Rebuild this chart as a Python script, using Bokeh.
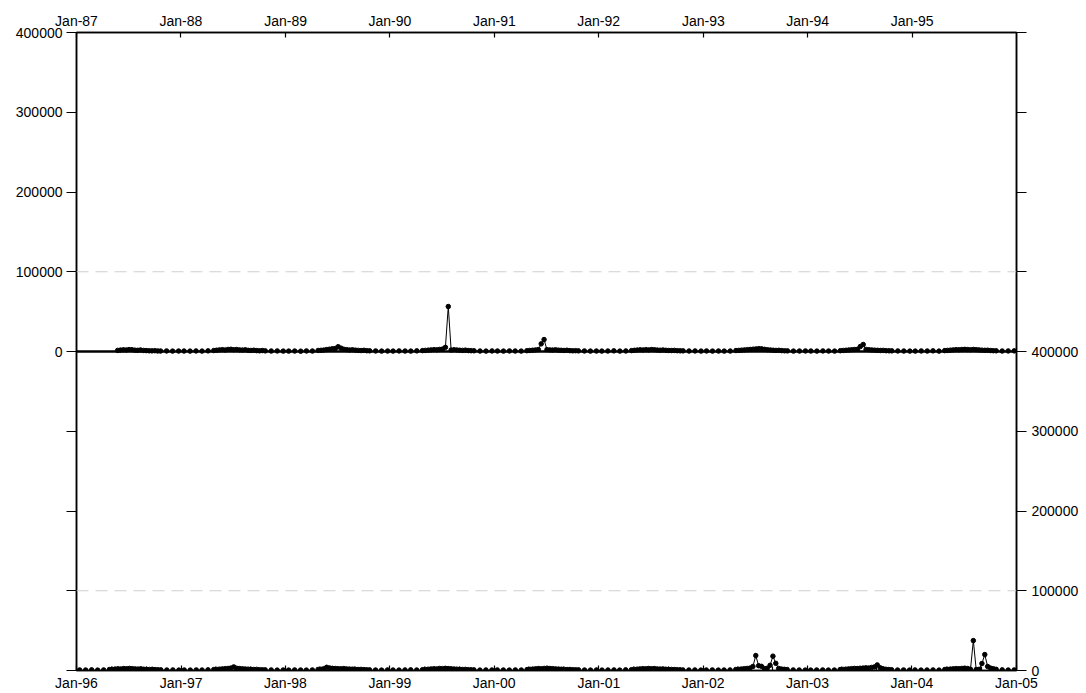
from datetime import datetime
from bokeh.plotting import figure
from bokeh.models import (Range1d, DatetimeAxis, LinearAxis, FixedTicker,
                          DatetimeTickFormatter, Span, CustomJSTickFormatter)
from bokeh.embed import file_html
from bokeh.resources import INLINE

# sampling calendar (month, day) used each year
SAMPLE_MD = [(1, 12), (2, 2), (2, 23), (3, 15), (4, 5),
             (4, 25), (5, 5), (5, 15), (5, 25), (6, 4), (6, 14), (6, 24), (7, 4), (7, 14), (7, 24),
             (8, 3), (8, 13), (8, 23), (9, 2), (9, 12), (9, 22), (10, 2), (10, 12), (10, 22),
             (11, 12), (12, 3), (12, 24)]

V1987 = [None, None, None, None, None, None, None, None, 1400, 1800, 2100, 1900, 2400, 2200, 1700, 1500, 1900, 1300, 1100, 900, 800, 1000, 700, 600, 700, 500, 600]
V1988 = [600, 500, 700, 500, 800, 1200, 1600, 2000, 2300, 1900, 2600, 2800, 2200, 2500, 2000, 1800, 2100, 1500, 1300, 1600, 1100, 900, 1200, 800, 600, 700, 500]
V1989 = [500, 600, 400, 700, 600, 1300, 1500, 1800, 2400, 2900, 3500, 3800, 6000, 4200, 2800, 2300, 1900, 2100, 1700, 1400, 1200, 1500, 1000, 900, 700, 500, 600]
V1990 = [500, 700, 600, 500, 800, 1100, 1400, 1700, 2000, 2300, 2100, 2600, 3000, 5200, 56400, 1800, 2200, 1900, 1600, 1400, 1700, 1200, 1000, 900, 600, 500, 700]
V1991 = [600, 500, 700, 600, 500, 1000, 1300, 1600, 1900, 2400, 9600, 15000, 2300, 2000, 1800, 2100, 1700, 1500, 1300, 1600, 1100, 900, 1000, 800, 700, 500, 600]
V1992 = [500, 600, 800, 500, 700, 1100, 1500, 1800, 2100, 1900, 2300, 2000, 2400, 2200, 1800, 1600, 1900, 1500, 1300, 1200, 1400, 1000, 900, 800, 600, 700, 500]
V1993 = [700, 500, 600, 500, 600, 1200, 1400, 1700, 2000, 2300, 2600, 2900, 3200, 3600, 3300, 2700, 2200, 1900, 1600, 1400, 1500, 1100, 900, 800, 500, 600, 700]
V1994 = [600, 500, 700, 600, 500, 1000, 1300, 1600, 1900, 2200, 2500, 2800, 6300, 8800, 2600, 2200, 1900, 1700, 1500, 1300, 1400, 1000, 900, 800, 700, 600, 500]
V1995 = [500, 700, 600, 800, 500, 1100, 1400, 1700, 2000, 2300, 2100, 2500, 2700, 2400, 2200, 2600, 2300, 2000, 1700, 1500, 1600, 1200, 1000, 900, 600, 700, 800]

V1996 = [700, 600, 800, 500, 700, 1200, 1500, 1800, 2100, 1900, 2400, 2200, 2600, 2300, 2000, 1800, 2100, 1600, 1400, 1300, 1500, 1100, 900, 800, 600, 700, 500]
V1997 = [600, 500, 700, 600, 800, 1100, 1400, 1700, 2000, 2300, 2600, 3000, 4500, 2800, 2400, 2100, 1900, 1700, 1500, 1300, 1400, 1000, 900, 800, 700, 500, 600]
V1998 = [500, 700, 600, 500, 700, 1300, 1600, 2200, 4000, 3200, 2700, 2500, 2300, 2100, 2400, 2000, 1800, 1700, 1500, 1300, 1400, 1100, 900, 800, 600, 500, 700]
V1999 = [600, 500, 700, 800, 600, 1000, 1300, 1600, 1900, 2200, 2000, 2500, 2300, 2700, 2400, 2100, 1900, 1700, 1500, 1300, 1400, 1000, 900, 800, 500, 700, 600]
V2000 = [700, 600, 500, 700, 600, 1100, 1500, 1800, 2100, 2400, 2200, 2600, 2900, 2500, 2300, 2000, 1800, 1600, 1400, 1200, 1300, 1000, 900, 800, 600, 500, 700]
V2001 = [500, 600, 700, 500, 800, 1000, 1400, 1700, 2000, 2300, 2100, 2500, 2200, 2400, 2000, 1800, 2000, 1600, 1400, 1300, 1200, 1000, 900, 700, 600, 700, 500]
V2002 = [600, 700, 500, 600, 700, 1200, 1500, 1900, 2300, 2600, 3000, 5000, 18750, 6000, 5200, 2400, 2800, 6500, 18000, 9000, 2600, 1800, 1500, 1200, 700, 600, 500]
V2003 = [500, 600, 700, 500, 600, 1100, 1400, 1700, 2000, 2300, 2600, 2400, 2800, 3000, 3300, 3100, 3800, 4500, 7000, 3500, 2200, 1500, 1200, 1000, 600, 700, 500]
V2004 = [700, 500, 600, 700, 500, 1200, 1500, 1800, 2100, 2400, 2200, 2600, 2900, 2500, 1500, 37500, 1200, 1500, 8750, 20000, 5000, 3000, 2200, 1500, 800, 600, 700]

TOP_YEARS = [(1987, V1987), (1988, V1988), (1989, V1989), (1990, V1990), (1991, V1991),
             (1992, V1992), (1993, V1993), (1994, V1994), (1995, V1995)]
BOTTOM_YEARS = [(1996, V1996), (1997, V1997), (1998, V1998), (1999, V1999), (2000, V2000),
                (2001, V2001), (2002, V2002), (2003, V2003), (2004, V2004)]

Y_MAX = 400000
Y_STEP = 100000
TOP_X_TICK_YEARS = list(range(1987, 1996))
BOTTOM_X_TICK_YEARS = list(range(1996, 2006))

FONT = "Liberation Sans"
FSIZE = "14px"
EPOCH = datetime(1970, 1, 1)
DAY_MS = 86400000.0


def ms(dt):
    return (dt - EPOCH).total_seconds() * 1000.0


def build(years):
    xs, ys = [], []
    for yr, vals in years:
        for (m, d), v in zip(SAMPLE_MD, vals):
            if v is None:
                continue
            xs.append(ms(datetime(yr, m, d)))
            ys.append(v)
    lx, ly = [], []
    for i, (x, y) in enumerate(zip(xs, ys)):
        if i > 0 and x - xs[i - 1] > 16 * DAY_MS:
            lx.append((x + xs[i - 1]) / 2)
            ly.append(float("nan"))
        lx.append(x)
        ly.append(y)
    return xs, ys, lx, ly


def style_axis(ax, tick_in, tick_out):
    ax.major_tick_out = tick_out
    ax.major_tick_in = tick_in
    ax.minor_tick_out = 0
    ax.minor_tick_in = 0
    ax.axis_line_color = "black"
    ax.axis_line_width = 1.5
    ax.major_tick_line_width = 1.2
    ax.minor_tick_line_width = 1.2
    ax.major_label_standoff = 4
    ax.major_label_text_font = FONT
    ax.major_label_text_font_size = FSIZE
    ax.major_label_text_color = "black"
    return ax


def date_formatter():
    f = "%b-%y"
    return DatetimeTickFormatter(microseconds=f, milliseconds=f, seconds=f, minsec=f,
                                 minutes=f, hourmin=f, hours=f, days=f, months=f, years=f)


# top panel lives in the default ranges (upper half: 0..400000),
# bottom panel lives in extra ranges (lower half: 0..400000)
p = figure(width=1086, height=693, output_backend="svg", toolbar_location=None,
           x_axis_type=None, y_axis_type=None,
           x_range=Range1d(ms(datetime(1987, 1, 1)), ms(datetime(1996, 1, 1))),
           y_range=Range1d(-Y_MAX, Y_MAX),
           min_border_left=76, min_border_right=70,
           min_border_top=32, min_border_bottom=22)
p.extra_x_ranges = {"bx": Range1d(ms(datetime(1996, 1, 1)), ms(datetime(2005, 1, 1)))}
p.extra_y_ranges = {"by": Range1d(0, 2 * Y_MAX)}
p.outline_line_color = "black"
p.outline_line_width = 1.5
p.background_fill_color = "white"
p.border_fill_color = "white"

# dashed reference lines at 100000 in both panels
p.add_layout(Span(location=Y_STEP, dimension="width", line_color="#cfcfcf",
                  line_dash="12 7", line_width=1))
p.add_layout(Span(location=Y_STEP, dimension="width", line_color="#cfcfcf",
                  line_dash="12 7", line_width=1, y_range_name="by"))
# divider between the panels
p.add_layout(Span(location=0, dimension="width", line_color="black", line_width=2.5))

xs, ys, lx, ly = build(TOP_YEARS)
p.line(lx, ly, line_color="black", line_width=1)
p.scatter(xs, ys, size=4.5, fill_color="black", line_color="black")

bxs, bys, blx, bly = build(BOTTOM_YEARS)
p.line(blx, bly, line_color="black", line_width=1, x_range_name="bx", y_range_name="by")
p.scatter(bxs, bys, size=4.5, fill_color="black", line_color="black",
          x_range_name="bx", y_range_name="by")

# left axis: labels for the top panel only (values >= 0 in the top range)
left_ticks = list(range(-Y_MAX, Y_MAX + 1, Y_STEP))
left = LinearAxis(ticker=FixedTicker(ticks=left_ticks),
                  formatter=CustomJSTickFormatter(code="return tick >= 0 ? tick.toFixed(0) : ''"))
p.add_layout(style_axis(left, 0, 10), "left")

# right axis: labels for the bottom panel only (values <= 400000 in the bottom range)
right_ticks = list(range(0, 2 * Y_MAX + 1, Y_STEP))
right = LinearAxis(y_range_name="by", ticker=FixedTicker(ticks=right_ticks),
                   formatter=CustomJSTickFormatter(code="return tick <= 400000 ? tick.toFixed(0) : ''"))
p.add_layout(style_axis(right, 0, 10), "right")
right.major_label_standoff = 5

top_axis = DatetimeAxis(ticker=FixedTicker(ticks=[ms(datetime(y, 1, 1)) for y in TOP_X_TICK_YEARS]),
                        formatter=date_formatter())
p.add_layout(style_axis(top_axis, 5, 0), "above")

minor = []
for yr in BOTTOM_X_TICK_YEARS[:-1]:
    minor += [ms(datetime(yr, 5, 1)), ms(datetime(yr, 9, 1))]
bottom_axis = DatetimeAxis(x_range_name="bx",
                           ticker=FixedTicker(ticks=[ms(datetime(y, 1, 1)) for y in BOTTOM_X_TICK_YEARS],
                                              minor_ticks=minor),
                           formatter=date_formatter())
style_axis(bottom_axis, 5, 0)
bottom_axis.minor_tick_in = 4
p.add_layout(bottom_axis, "below")

open("out.html", "w").write(file_html(p, INLINE))
